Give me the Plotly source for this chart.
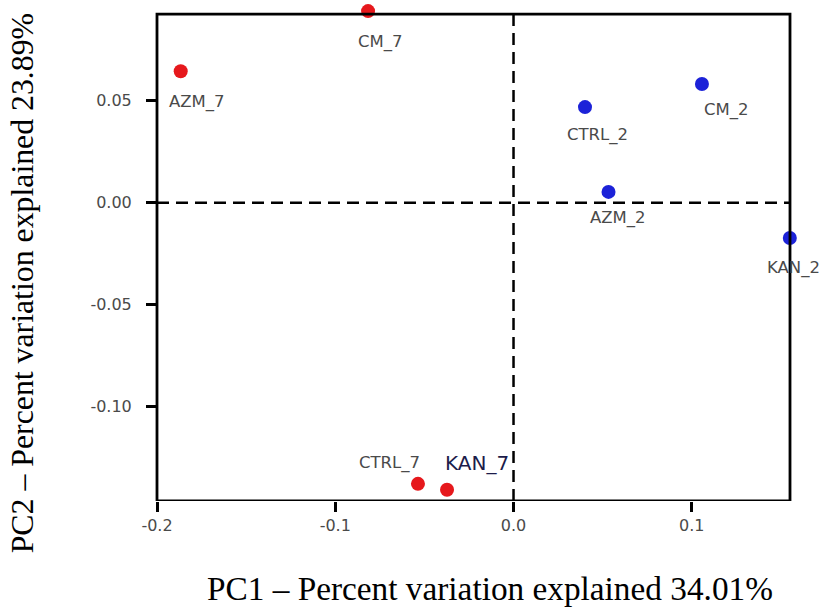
import plotly.graph_objects as go

# ---- data ----
labels = ["AZM_7", "CM_7", "CTRL_7", "KAN_7", "CTRL_2", "CM_2", "AZM_2", "KAN_2"]
pc1 = [-0.1867, -0.0816, -0.0536, -0.0373, 0.0401, 0.1057, 0.0533, 0.1550]
pc2 = [0.0645, 0.0940, -0.1379, -0.1408, 0.0469, 0.0582, 0.0053, -0.0173]
group = ["day7", "day7", "day7", "day7", "day2", "day2", "day2", "day2"]
x_ticks = [-0.2, -0.1, 0.0, 0.1]
x_ticklabels = ["-0.2", "-0.1", "0.0", "0.1"]
y_ticks = [0.05, 0.0, -0.05, -0.10]
y_ticklabels = ["0.05", "0.00", "-0.05", "-0.10"]
x_title = "PC1 \u2013 Percent variation explained 34.01%"
y_title = "PC2 \u2013 Percent variation explained 23.89%"

# ---- layout / styles ----
X_RANGE = [-0.2, 0.1551]
Y_RANGE = [-0.1463, 0.0960]   # plot area extends a little above the frame
FRAME_TOP = 0.0925            # the drawn box's top edge
colors = {"day7": "#e6181c", "day2": "#1c22d8"}
label_shift = {  # (xshift, yshift) in px
    "AZM_7": (16, -31), "CM_7": (12, -31), "CTRL_7": (-28, 21), "KAN_7": (30, 27),
    "CTRL_2": (12, -28), "CM_2": (25, -26), "AZM_2": (9, -26), "KAN_2": (4, -30),
}
label_font = {"KAN_7": dict(family="DejaVu Sans", size=20, color="#1c1c4a")}
default_label_font = dict(family="DejaVu Sans", size=16.5, color="#4a4a4a")

fig = go.Figure()
for g in ["day7", "day2"]:
    xs = [x for x, gg in zip(pc1, group) if gg == g]
    ys = [y for y, gg in zip(pc2, group) if gg == g]
    fig.add_trace(go.Scatter(x=xs, y=ys, mode="markers", cliponaxis=False,
                             marker=dict(size=14, color=colors[g], line=dict(width=0)),
                             showlegend=False, hoverinfo="skip"))

for lab, x, y in zip(labels, pc1, pc2):
    dx, dy = label_shift[lab]
    fig.add_annotation(x=x, y=y, xref="x", yref="y", text=lab, showarrow=False,
                       xshift=dx, yshift=dy, xanchor="center", yanchor="middle",
                       font=label_font.get(lab, default_label_font))

# frame box
fig.add_shape(type="rect", xref="paper", yref="y", x0=0, x1=1,
              y0=Y_RANGE[0], y1=FRAME_TOP, line=dict(color="black", width=2.8),
              layer="above")
# dashed zero lines
fig.add_shape(type="line", xref="x", yref="y", x0=0, x1=0, y0=Y_RANGE[0], y1=FRAME_TOP,
              line=dict(color="black", width=2.5, dash="12px,7px"))
fig.add_shape(type="line", xref="paper", yref="y", x0=0, x1=1, y0=0, y1=0,
              line=dict(color="black", width=2.5, dash="12px,7px"))

tick_font = dict(family="DejaVu Sans", size=16, color="#4a4a4a")
fig.update_xaxes(range=X_RANGE, tickvals=x_ticks, ticktext=x_ticklabels,
                 showgrid=False, zeroline=False, showline=False,
                 ticks="outside", ticklen=10, tickwidth=2.5, tickcolor="black",
                 tickfont=tick_font)
fig.update_yaxes(range=Y_RANGE, tickvals=y_ticks, ticktext=y_ticklabels,
                 showgrid=False, zeroline=False, showline=False,
                 ticks="outside", ticklen=10, tickwidth=2.5, tickcolor="black",
                 tickfont=tick_font, ticklabelstandoff=11)

fig.add_annotation(text=x_title, xref="paper", yref="paper", x=0.526, y=-0.177,
                   xanchor="center", yanchor="middle", showarrow=False,
                   font=dict(family="Liberation Serif", size=33.3, color="black"))
fig.add_annotation(text=y_title, xref="paper", yref="paper", x=-0.213, y=0.441,
                   xanchor="center", yanchor="middle", showarrow=False, textangle=-90,
                   font=dict(family="Liberation Serif", size=31.8, color="black"))

fig.update_layout(width=825, height=608, margin=dict(l=157, r=35, t=7, b=107),
                  plot_bgcolor="white", paper_bgcolor="white")

fig.write_html("out.html")
